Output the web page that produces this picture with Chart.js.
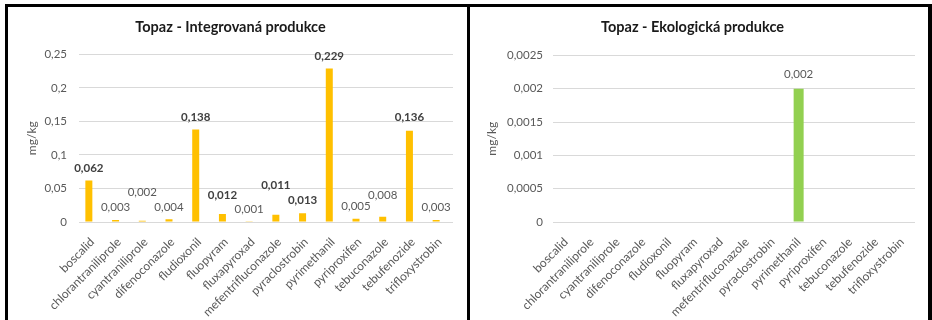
<!DOCTYPE html>
<html>
<head>
<meta charset="utf-8">
<script src="https://cdn.jsdelivr.net/npm/chart.js@4/dist/chart.umd.min.js"></script>
<style>
  html, body { margin: 0; padding: 0; background: #fff; width: 932px; height: 320px; overflow: hidden; }
  #frame { position: absolute; left: 5px; top: 4px; border-top: 3px solid #000; border-left: 3px solid #000; border-right: 4px solid #000; display: flex; height: 330px; }
  .panel { position: relative; height: 313px; }
  #divider { width: 3px; background: #000; height: 330px; }
  canvas { display: block; }
</style>
</head>
<body>
<div id="frame">
  <div class="panel" style="width:459px"><canvas id="left" width="459" height="313"></canvas></div>
  <div id="divider"></div>
  <div class="panel" style="width:458px"><canvas id="right" width="458" height="313"></canvas></div>
</div>
<script>
// ---------- data ----------
const categories = ['boscalid', 'chlorantraniliprole', 'cyantraniliprole', 'difenoconazole', 'fludioxonil',
  'fluopyram', 'fluxapyroxad', 'mefentrifluconazole', 'pyraclostrobin', 'pyrimethanil', 'pyriproxifen',
  'tebuconazole', 'tebufenozide', 'trifloxystrobin'];
const integrovanaValues = [0.062, 0.003, 0.002, 0.004, 0.138, 0.012, 0.001, 0.011, 0.013, 0.229, 0.005, 0.008, 0.136, 0.003];
const ekologickaValues = [null, null, null, null, null, null, null, null, null, 0.002, null, null, null, null];
const leftTickLabels = ['0', '0,05', '0,1', '0,15', '0,2', '0,25'];
const rightTickLabels = ['0', '0,0005', '0,001', '0,0015', '0,002', '0,0025'];
const leftTitle = 'Topaz - Integrovaná produkce';
const rightTitle = 'Topaz - Ekologická produkce';
const axisTitle = 'mg/kg';

// ---------- label styling (not data) ----------
const leftLabelBold = [true, false, false, false, true, true, false, true, true, true, false, false, true, false];
const leftLabelLift = [0, 0, 16, 0, 0, 6, 0, 17, 0, 0, 0, 9, 1, 0];

const FONT = 'Lato';
const GREY = '#595959';

const fmt = (v, d) => v.toFixed(d).replace('.', ',');

const valueLabels = {
  id: 'valueLabels',
  afterDatasetsDraw(chart, args, opts) {
    const ctx = chart.ctx;
    const meta = chart.getDatasetMeta(0);
    const data = chart.data.datasets[0].data;
    ctx.save();
    ctx.textAlign = 'center';
    ctx.textBaseline = 'middle';
    meta.data.forEach((bar, i) => {
      const v = data[i];
      if (v === null || v === undefined) return;
      const bold = opts.bold ? opts.bold[i] : false;
      const lift = opts.lift ? opts.lift[i] : 0;
      ctx.font = (bold ? 'bold ' : '') + '11.5px ' + FONT;
      ctx.fillStyle = bold ? '#404040' : GREY;
      ctx.fillText(fmt(v, opts.decimals), bar.x, bar.y - opts.offset - lift);
    });
    ctx.restore();
  }
};

function makeChart(id, cfg) {
  return new Chart(document.getElementById(id), {
    type: 'bar',
    data: { labels: categories, datasets: cfg.datasets },
    plugins: [valueLabels],
    options: {
      responsive: false,
      animation: false,
      devicePixelRatio: 1,
      layout: { padding: { left: 0, right: cfg.padRight, top: 0, bottom: 0 } },
      plugins: {
        legend: { display: false },
        tooltip: { enabled: false },
        title: {
          display: true, text: cfg.title, color: '#1a1a1a',
          font: { family: FONT, size: 14.5, weight: 'bold' },
          padding: { top: 12, bottom: cfg.titleBottom }
        },
        valueLabels: { bold: cfg.bold, lift: cfg.lift, decimals: 3, offset: cfg.labelOffset }
      },
      scales: {
        x: {
          grid: { display: false },
          border: { display: false },
          ticks: { color: GREY, font: { family: FONT, size: 12 }, maxRotation: 45, minRotation: 45, padding: 5, autoSkip: false },
          afterFit(s) { s.height = 98; }
        },
        y: {
          min: 0, max: cfg.max,
          ticks: {
            stepSize: cfg.max / 5, color: GREY, font: { family: FONT, size: 11.5 }, padding: cfg.tickPad,
            callback: (val, idx) => cfg.tickLabels[idx]
          },
          grid: { color: '#d9d9d9', drawTicks: false },
          border: { display: false },
          title: { display: true, text: axisTitle, color: GREY, font: { family: FONT, size: 12 }, padding: { top: cfg.yTitlePad, bottom: 0 } },
          afterFit(s) { s.width = cfg.yWidth; }
        }
      }
    }
  });
}

makeChart('left', {
  title: leftTitle,
  datasets: [
    { label: 'Integrovaná produkce', data: integrovanaValues, backgroundColor: '#FFC000', categoryPercentage: 0.524, barPercentage: 1 },
    { label: '', data: [], backgroundColor: 'rgba(0,0,0,0)', categoryPercentage: 0.524, barPercentage: 1 }
  ],
  max: 0.25, tickLabels: leftTickLabels, bold: leftLabelBold, lift: leftLabelLift,
  padRight: 14, yWidth: 71, tickPad: 12, yTitlePad: 17, titleBottom: 18, labelOffset: 12.5
});

makeChart('right', {
  title: rightTitle,
  datasets: [
    { label: 'Ekologická produkce', data: ekologickaValues, backgroundColor: '#92D050', categoryPercentage: 0.387, barPercentage: 1 }
  ],
  max: 0.0025, tickLabels: rightTickLabels, bold: null, lift: null,
  padRight: 13, yWidth: 83, tickPad: 10, yTitlePad: 15, titleBottom: 19, labelOffset: 14
});
</script>
</body>
</html>
